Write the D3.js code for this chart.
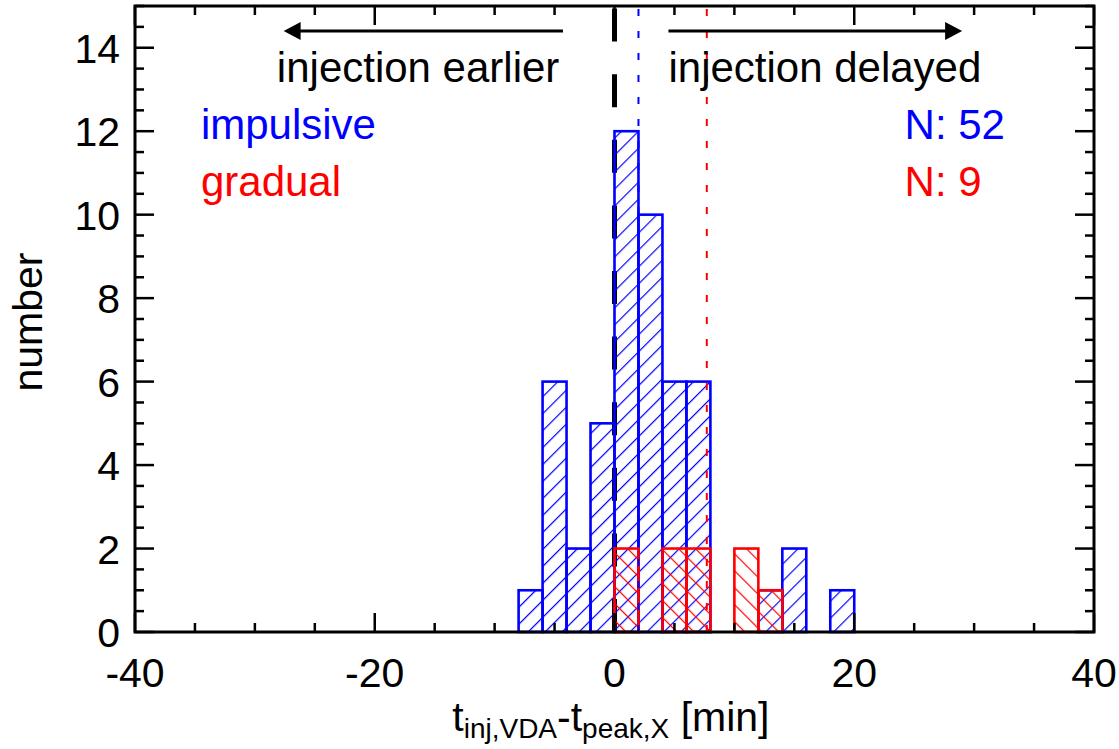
<!DOCTYPE html>
<html>
<head>
<meta charset="utf-8">
<script src="https://cdn.jsdelivr.net/npm/d3@7"></script>
<style>
  body { margin: 0; background: #fff; }
  text { font-family: "Liberation Sans", Arial, Helvetica, sans-serif; }
</style>
</head>
<body>
<div id="chart"></div>
<script>
// histogram bins (left edge, minutes), width 2 min
var binStarts = [-8, -6, -4, -2, 0, 2, 4, 6, 8, 10, 12, 14, 16, 18];
var binWidth = 2;
var impulsive = [1, 6, 2, 5, 12, 10, 6, 6, 0, 0, 1, 2, 0, 1];
var gradual   = [0, 0, 0, 0, 2, 0, 2, 2, 0, 2, 1, 0, 0, 0];
var meanImpulsive = 2.0;
var meanGradual = 7.7;
var xTicks = [-40, -20, 0, 20, 40];
var yTicks = [0, 2, 4, 6, 8, 10, 12, 14];

var margin = {top: 6, right: 25, bottom: 117, left: 135},
    width = 1119 - margin.left - margin.right,
    height = 749 - margin.top - margin.bottom;

var x = d3.scaleLinear().domain([-40, 40]).range([0, width]);
var y = d3.scaleLinear().domain([0, 15]).range([height, 0]);

var svgRoot = d3.select("#chart").append("svg")
    .attr("width", 1119)
    .attr("height", 749);

// hatch patterns
var defs = svgRoot.append("defs");
defs.append("pattern")
    .attr("id", "hatchBlue")
    .attr("patternUnits", "userSpaceOnUse")
    .attr("width", 12).attr("height", 12)
    .attr("patternTransform", "rotate(45)")
    .append("line")
    .attr("x1", 0).attr("y1", 0).attr("x2", 0).attr("y2", 12)
    .attr("stroke", "#0000ff").attr("stroke-width", 2.4);
defs.append("pattern")
    .attr("id", "hatchRed")
    .attr("patternUnits", "userSpaceOnUse")
    .attr("width", 12).attr("height", 12)
    .attr("patternTransform", "rotate(-45)")
    .append("line")
    .attr("x1", 0).attr("y1", 0).attr("x2", 0).attr("y2", 12)
    .attr("stroke", "#ff0000").attr("stroke-width", 2.4);

var svg = svgRoot.append("g")
    .attr("transform", "translate(" + margin.left + "," + margin.top + ")");

// zero line
svg.append("line")
    .attr("x1", x(0)).attr("x2", x(0))
    .attr("y1", y(0)).attr("y2", y(15))
    .attr("stroke", "#000")
    .attr("stroke-width", 5)
    .attr("stroke-dasharray", "33,32.6");

// bars
function drawBars(counts, fill, color) {
    var data = binStarts.map(function(b, i) { return {x0: b, n: counts[i]}; })
        .filter(function(d) { return d.n > 0; });
    svg.selectAll(null)
        .data(data)
        .enter().append("rect")
        .attr("x", function(d) { return x(d.x0); })
        .attr("width", x(binWidth) - x(0))
        .attr("y", function(d) { return y(d.n); })
        .attr("height", function(d) { return y(0) - y(d.n); })
        .attr("fill", "url(#" + fill + ")")
        .attr("stroke", color)
        .attr("stroke-width", 2.6);
}
drawBars(impulsive, "hatchBlue", "#0000ff");
drawBars(gradual, "hatchRed", "#ff0000");

// mean lines
svg.append("line")
    .attr("x1", x(meanImpulsive)).attr("x2", x(meanImpulsive))
    .attr("y1", y(0)).attr("y2", y(15))
    .attr("stroke", "#0000ff").attr("stroke-width", 2)
    .attr("stroke-dasharray", "7,15");
svg.append("line")
    .attr("x1", x(meanGradual)).attr("x2", x(meanGradual))
    .attr("y1", y(0)).attr("y2", y(15))
    .attr("stroke", "#ff0000").attr("stroke-width", 2)
    .attr("stroke-dasharray", "7,15");

// frame and ticks
svg.append("rect")
    .attr("x", 0).attr("y", 0)
    .attr("width", width).attr("height", height)
    .attr("fill", "none").attr("stroke", "#000").attr("stroke-width", 3);

var xMinor = d3.range(-40, 40.1, 5);
var yMinor = d3.range(0, 15.01, 0.5);
function isMajorX(v) { return v % 20 === 0; }
function isMajorY(v) { return v % 2 === 0; }

var ticks = svg.append("g").attr("stroke", "#000").attr("stroke-width", 2.5);
xMinor.forEach(function(v) {
    var len = isMajorX(v) ? 19 : 9;
    ticks.append("line").attr("x1", x(v)).attr("x2", x(v)).attr("y1", height).attr("y2", height - len);
    ticks.append("line").attr("x1", x(v)).attr("x2", x(v)).attr("y1", 0).attr("y2", len);
});
yMinor.forEach(function(v) {
    var len = isMajorY(v) ? 19 : 9;
    ticks.append("line").attr("y1", y(v)).attr("y2", y(v)).attr("x1", 0).attr("x2", len);
    ticks.append("line").attr("y1", y(v)).attr("y2", y(v)).attr("x1", width).attr("x2", width - len);
});

// tick labels
svg.selectAll(null).data(xTicks).enter().append("text")
    .attr("x", function(d) { return x(d); })
    .attr("y", height + 55)
    .attr("text-anchor", "middle")
    .attr("font-size", 41)
    .text(function(d) { return d; });
svg.selectAll(null).data(yTicks).enter().append("text")
    .attr("x", -15)
    .attr("y", function(d) { return y(d) + 15; })
    .attr("text-anchor", "end")
    .attr("font-size", 41)
    .text(function(d) { return d; });

// axis titles
svg.append("text")
    .attr("transform", "translate(" + (42 - margin.left) + "," + (322 - margin.top) + ") rotate(-90)")
    .attr("text-anchor", "middle")
    .attr("font-size", 41)
    .text("number");

var xl = svg.append("text")
    .attr("x", x(-0.3))
    .attr("y", 731 - margin.top)
    .attr("text-anchor", "middle")
    .attr("font-size", 41);
xl.append("tspan").text("t");
xl.append("tspan").attr("font-size", 28).attr("dy", 7).text("inj,VDA");
xl.append("tspan").attr("dy", -7).text("-t");
xl.append("tspan").attr("font-size", 28).attr("dy", 7).text("peak,X");
xl.append("tspan").attr("dy", -7).text(" [min]");

// arrows
var arrowY = y(14.4);
function arrow(from, to) {
    var dir = to > from ? 1 : -1;
    svg.append("line")
        .attr("x1", x(from)).attr("x2", x(to) - dir * 14)
        .attr("y1", arrowY).attr("y2", arrowY)
        .attr("stroke", "#000").attr("stroke-width", 3);
    var tip = x(to);
    svg.append("path")
        .attr("d", "M" + tip + "," + arrowY +
                   "L" + (tip - dir * 17) + "," + (arrowY - 9) +
                   "L" + (tip - dir * 17) + "," + (arrowY + 9) + "Z")
        .attr("fill", "#000");
}
arrow(-4.3, -27.6);
arrow(4.5, 29.0);

svg.append("text")
    .attr("x", x(-4.6)).attr("y", 82 - margin.top)
    .attr("text-anchor", "end").attr("font-size", 42)
    .text("injection earlier");
svg.append("text")
    .attr("x", x(4.5)).attr("y", 82 - margin.top)
    .attr("font-size", 42)
    .text("injection delayed");

// legend
svg.append("text").attr("x", x(-34.5)).attr("y", 139 - margin.top)
    .attr("font-size", 42).attr("fill", "#0000ff").text("impulsive");
svg.append("text").attr("x", x(-34.5)).attr("y", 196 - margin.top)
    .attr("font-size", 42).attr("fill", "#ff0000").text("gradual");
svg.append("text").attr("x", x(24.2)).attr("y", 139 - margin.top)
    .attr("font-size", 42).attr("fill", "#0000ff").text("N: " + d3.sum(impulsive));
svg.append("text").attr("x", x(24.2)).attr("y", 196 - margin.top)
    .attr("font-size", 42).attr("fill", "#ff0000").text("N: " + d3.sum(gradual));
</script>
</body>
</html>
